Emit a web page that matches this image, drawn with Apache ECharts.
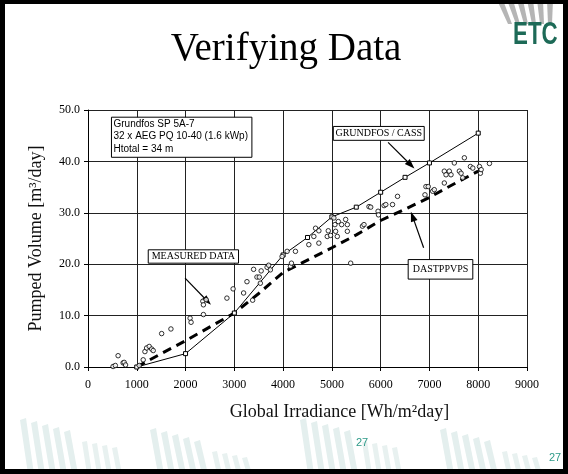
<!DOCTYPE html>
<html><head><meta charset="utf-8">
<script src="https://cdn.jsdelivr.net/npm/echarts@6/dist/echarts.min.js"></script>
<style>html,body{margin:0;padding:0;background:#fff}#c{width:568px;height:474px}</style>
</head><body><div id="c"></div>
<script>
// ---- data ----
const titleText = 'Verifying Data';
const xName = 'Global Irradiance [Wh/m\u00b2day]';
const yName = 'Pumped Volume [m\u00b3/day]';
const xMin = 0, xMax = 9000, xStep = 1000;
const yMin = 0, yMax = 50, yStep = 10;

const grundfosCass = [[1000,0],[2000,2.6],[3000,10.5],[4000,21.8],[4500,25.2],[5000,29.2],[5500,31.1],[6000,34.0],[6500,36.9],[7000,39.7],[8000,45.5]];
const dastppvps = [[1000,0],[1500,2.6],[2000,5.1],[2500,7.8],[3000,10.5],[3500,14.3],[4000,18.4],[4500,20.8],[5000,23.2],[5500,25.7],[6000,28.5],[6500,30.7],[7000,33.0],[7500,35.6],[8000,38.1]];
const measured = [[514,0.1],[560,0.3],[617,2.2],[720,0.8],[741,0.9],[770,0.4],[1050,0.3],[1132,1.4],[1167,3.0],[1202,3.7],[1255,4.0],[1305,3.5],[1337,3.2],[1510,6.5],[1700,7.4],[2093,9.5],[2113,8.7],[2354,12.8],[2366,12.1],[2422,13.1],[2366,10.2],[2848,13.4],[2975,15.2],[3190,14.4],[3259,16.6],[3375,13.0],[3395,19.0],[3464,17.5],[3512,17.5],[3533,16.3],[3550,18.7],[3671,19.4],[3704,19.8],[3739,18.9],[3979,21.5],[4082,22.5],[4150,19.6],[4171,20.2],[4253,22.5],[4527,23.8],[4630,25.4],[4665,27.0],[4733,26.5],[4733,24.1],[4905,25.4],[4926,26.5],[4973,25.6],[5041,29.0],[5062,27.7],[5076,26.4],[5111,25.4],[5132,28.3],[5200,27.7],[5282,28.7],[5317,27.7],[5317,26.4],[5385,20.2],[5626,27.4],[5658,27.7],[5761,31.2],[5796,31.1],[5947,30.3],[5955,29.6],[6070,31.4],[6105,31.6],[6243,31.6],[6346,33.2],[6908,33.5],[6928,35.1],[6975,35.1],[7066,34.2],[7099,34.5],[7305,35.8],[7305,38.1],[7340,37.4],[7407,38.1],[7442,37.4],[7510,39.7],[7613,38.1],[7648,37.7],[7683,36.8],[7716,40.7],[7840,39.0],[7889,38.7],[8025,39.0],[8045,37.7],[8060,38.4],[8230,39.6]];

const infoLines = ['Grundfos SP 5A-7','32 x AEG PQ 10-40 (1.6 kWp)','Htotal = 34 m'];
// annotation boxes: [label, x1, y1, x2, y2] in data units
const boxes = [
  ['GRUNDFOS / CASS', 5029, 46.8, 6893, 44.1],
  ['MEASURED DATA', 1235, 22.8, 3086, 20.2],
  ['DASTPPVPS', 6564, 20.9, 7889, 17.1]
];
const infoBox = [481, 48.6, 3360, 40.8];
// arrows: [[fromX, fromY], [toX, toY]]
const arrows = [
  [[6152,43.7],[6619,39.3]],
  [[1990,17.3],[2449,12.8]],
  [[6881,23.2],[6654,29.3]]
];
const pageNo = '27';

const serif = '"Liberation Serif","Times New Roman",serif';
const sans = '"Liberation Sans",Arial,sans-serif';

const chart = echarts.init(document.getElementById('c'), null, {renderer:'canvas'});
const option = {
  animation: false,
  backgroundColor: '#fff',
  grid: {left: 88, right: 41, top: 110, bottom: 107, containLabel: false},
  xAxis: {
    type: 'value', min: xMin, max: xMax, interval: xStep,
    name: xName, nameLocation: 'middle', nameGap: 36,
    nameTextStyle: {fontFamily: serif, fontSize: 18, color: '#111', padding: [0, 0, 0, 64]},
    axisLine: {show: true, onZero: false, lineStyle: {color: '#000', width: 1}},
    axisTick: {show: true, inside: false, length: 4, lineStyle: {color: '#000'}},
    axisLabel: {fontFamily: serif, fontSize: 12, color: '#000', margin: 12, formatter: v => String(v)},
    splitLine: {show: true, lineStyle: {color: '#222', width: 1}}
  },
  yAxis: {
    type: 'value', min: yMin, max: yMax, interval: yStep,
    name: yName, nameLocation: 'middle', nameGap: 43,
    nameTextStyle: {fontFamily: serif, fontSize: 18, color: '#111'},
    axisLine: {show: true, lineStyle: {color: '#000', width: 1}},
    axisTick: {show: true, inside: false, length: 4, lineStyle: {color: '#000'}},
    axisLabel: {fontFamily: serif, fontSize: 12, color: '#000', margin: 8, formatter: v => v.toFixed(1)},
    splitLine: {show: true, lineStyle: {color: '#222', width: 1}}
  },
  series: [
    {
      name: 'DASTPPVPS', type: 'line', data: dastppvps, showSymbol: false, symbol: 'none',
      lineStyle: {color: '#000', width: 3, type: [9, 6]}, z: 3
    },
    {
      name: 'GRUNDFOS / CASS', type: 'line', data: grundfosCass, symbol: 'rect', symbolSize: 4,
      lineStyle: {color: '#000', width: 1},
      itemStyle: {color: '#fff', borderColor: '#000', borderWidth: 1}, z: 4,
      markLine: {
        silent: true, symbol: ['none', 'triangle'], symbolSize: [7, 10],
        label: {show: false},
        lineStyle: {color: '#000', width: 1.2, type: 'solid'},
        data: arrows.map(a => [{coord: a[0]}, {coord: a[1]}])
      }
    },
    {
      name: 'Measured', type: 'scatter', data: measured, symbol: 'circle', symbolSize: 4.5,
      itemStyle: {color: '#fff', borderColor: '#000', borderWidth: 1}, z: 5
    }
  ]
};
chart.setOption(option);

function px(x, y){ return chart.convertToPixel({gridIndex:0}, [x, y]); }

const g = [];
// background stripes (slide decoration)
const stripeGroups = [[20,430],[150,440],[300,430],[440,440]];
stripeGroups.forEach(([sx, sy]) => {
  for (let i = 0; i < 5; i++) {
    g.push({type:'polygon', silent:true, z:-10,
      shape:{points:[[sx+i*11,sy-10+i*3],[sx+i*11+6,sy-12+i*3],[sx+i*11+14,474],[sx+i*11+8,474]]},
      style:{fill:'#e4efee'}});
  }
  for (let i = 0; i < 4; i++) {
    g.push({type:'polygon', silent:true, z:-10,
      shape:{points:[[sx+62+i*10,sy+12+i*2],[sx+67+i*10,sy+11+i*2],[sx+72+i*10,474],[sx+67+i*10,474]]},
      style:{fill:'#e8f1f0'}});
  }
});
// logo stripes
for (let i = 0; i < 6; i++) {
  g.push({type:'polygon', silent:true,
    shape:{points:[[497+i*10,0],[503+i*10,0],[512+i*8,24],[508+i*8,24]]},
    style:{fill:'#b5b5b5'}});
}
g.push({type:'text', x: 513, y: 20, scaleX: 0.72, style:{text:'ETC', font:'bold 31px "Liberation Sans",Arial,sans-serif', fill:'#1d6a57', textVerticalAlign:'top'}});
// title
g.push({type:'text', x: 286, y: 50, style:{text: titleText, font: '39px ' + serif, fill:'#000', textAlign:'center', textVerticalAlign:'middle'}});
// info box
{
  const a = px(infoBox[0], infoBox[1]), b = px(infoBox[2], infoBox[3]);
  g.push({type:'rect', z:50, shape:{x:a[0], y:a[1], width:b[0]-a[0], height:b[1]-a[1]}, style:{fill:'#fff', stroke:'#000', lineWidth:1}});
  infoLines.forEach((t, i) => {
    g.push({type:'text', z:51, x:a[0]+2, y:a[1]+2+i*12.5, style:{text:t, font:'10px ' + sans, fill:'#000', textVerticalAlign:'top'}});
  });
}
boxes.forEach(bx => {
  const a = px(bx[1], bx[2]), b = px(bx[3], bx[4]);
  g.push({type:'rect', z:50, shape:{x:a[0], y:a[1], width:b[0]-a[0], height:b[1]-a[1]}, style:{fill:'#fff', stroke:'#000', lineWidth:1}});
  g.push({type:'text', z:51, x:(a[0]+b[0])/2, y:(a[1]+b[1])/2, style:{text:bx[0], font:'10px ' + serif, fill:'#000', textAlign:'center', textVerticalAlign:'middle'}});
});
// page numbers
g.push({type:'text', x: 362, y: 443, style:{text:pageNo, font:'11px ' + sans, fill:'#2e9a88', textAlign:'center', textVerticalAlign:'middle'}});
g.push({type:'text', x: 555, y: 458, style:{text:pageNo, font:'11px ' + sans, fill:'#2e9a88', textAlign:'center', textVerticalAlign:'middle'}});
// slide border
g.push({type:'rect', z:100, shape:{x:2.5, y:1.5, width:563, height:470}, style:{fill:'none', stroke:'#000', lineWidth:5}});

chart.setOption({graphic: g});
</script>
</body></html>
